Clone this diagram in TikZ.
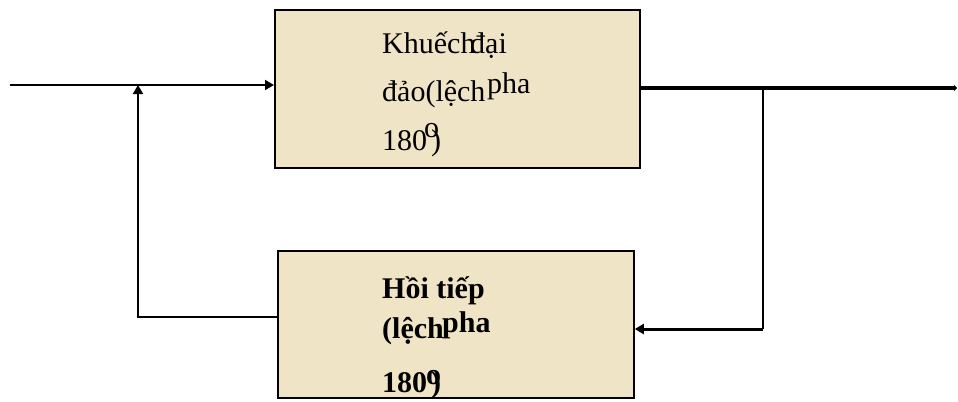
\documentclass[tikz,border=0pt]{standalone}
\usepackage{fontspec}
\setmainfont{Liberation Serif}
\usetikzlibrary{arrows.meta}
\definecolor{parch}{RGB}{240,228,198}
\tikzset{
  blk/.style={draw=black, line width=1.8bp, fill=parch, inner sep=0pt},
  txt/.style={anchor=base west, inner sep=0pt, font=\fontsize{30bp}{36bp}\selectfont},
  btxt/.style={txt, font=\fontsize{30bp}{36bp}\selectfont\bfseries},
  wire/.style={line width=1.8bp},
  arr/.style={-{Triangle[length=9bp,width=10bp]}}
}
\begin{document}
\begin{tikzpicture}[x=1bp,y=-1bp]
\useasboundingbox (0,0) rectangle (958,401);
% boxes
\node[blk, anchor=north west, minimum width=365bp, minimum height=158bp] (amp) at (274,9) {};
\node[blk, anchor=north west, minimum width=356bp, minimum height=147bp] (fb) at (277,250) {};
% texts top
\node[txt] (t1) at (382,53) {Khuếch};
\node[txt] (t2) at (470,53) {đại};
\node[txt] (t3) at (382,101) {đảo(lệch};
\node[txt] (t4) at (487,93) {pha};
\node[txt] (t5) at (382,150) {180};
\node[txt] (t6) at (424,137) {o};
\node[txt] (t7) at (431,150) {)};
% texts bottom
\node[btxt] (b1) at (382,298) {Hồi tiếp};
\node[btxt] (b2) at (382,338) {(lệch};
\node[btxt] (b3) at (442,332) {pha};
\node[btxt] (b4) at (382,392) {180};
\node[btxt] (b5) at (426,384) {o};
\node[btxt] (b6) at (431,392) {)};
% coordinates
\coordinate (in) at (10,85);
\coordinate (j1) at (138,85);
\coordinate (c1) at (138,317);
\coordinate (out) at (957,88);
\coordinate (j2) at (763,88);
\coordinate (c2) at (763,329);
% connectors
\draw[wire, arr] (in) -- (in -| amp.west);
\draw[wire, arr] (fb.west |- c1) -- (c1) -- (j1);
\draw[line width=3.5bp, -{Triangle[length=3bp,width=6bp]}] (amp.east |- out) -- (out);
\draw[wire] (j2) -- (c2);
\draw[line width=3bp, arr] (c2) -- (c2 -| fb.east);
\end{tikzpicture}
\end{document}
